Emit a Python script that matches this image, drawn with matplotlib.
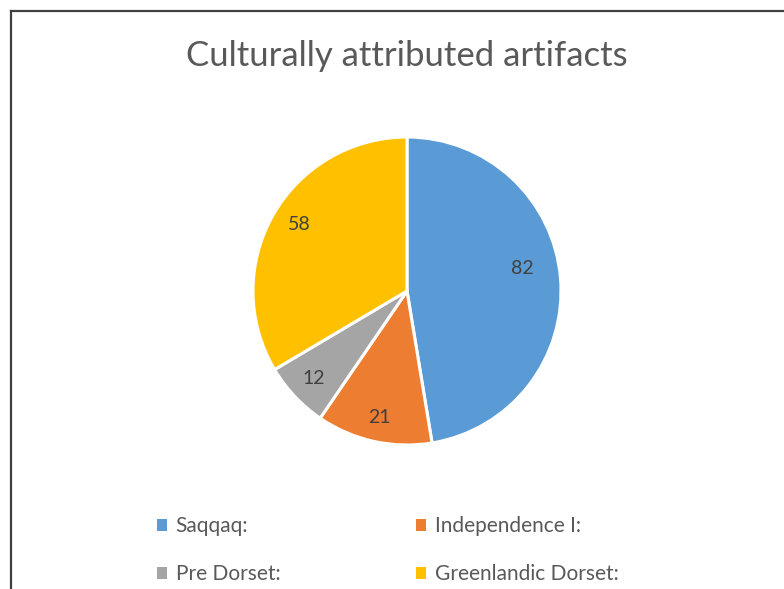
import matplotlib
matplotlib.use("Agg")
import numpy as np
import matplotlib.pyplot as plt
from matplotlib.lines import Line2D
from matplotlib.patches import Patch

categories = ["Saqqaq:", "Independence I:", "Pre Dorset:", "Greenlandic Dorset:"]
values = [82, 21, 12, 58]
colors = ["#5B9BD5", "#ED7D31", "#A5A5A5", "#FFC000"]
title = "Culturally attributed artifacts"

# label placement style (radius fraction, angular nudge in degrees)
label_dist = [0.76, 0.84, 0.83, 0.82]
label_nudge = [6.5, 0.0, 0.0, -2.0]

plt.rcParams['font.family'] = ['Lato', 'DejaVu Sans']

W, H = 784, 589
fig = plt.figure(figsize=(W / 100, H / 100), dpi=100)
fig.patch.set_facecolor("white")

# chart border (top and left visible)
fig.add_artist(Line2D([11 / W, 1.0], [1 - 11 / H, 1 - 11 / H], color="#404040", lw=1.6, transform=fig.transFigure))
fig.add_artist(Line2D([11 / W, 11 / W], [0, 1 - 11 / H], color="#404040", lw=1.6, transform=fig.transFigure))

cx, cy, r = 407, 291, 154
ax = fig.add_axes([(cx - r) / W, (H - cy - r) / H, 2 * r / W, 2 * r / H])
wedges, _ = ax.pie(values, colors=colors, startangle=90, counterclock=False,
                   wedgeprops=dict(edgecolor="white", linewidth=2.2))
for w, v, d, n in zip(wedges, values, label_dist, label_nudge):
    ang = np.deg2rad((w.theta1 + w.theta2) / 2 + n)
    ax.text(d * np.cos(ang), d * np.sin(ang), str(v), ha="center", va="center",
            fontsize=14, color="#404040")
ax.set_xlim(-1.0, 1.0)
ax.set_ylim(-1.0, 1.0)
ax.set_aspect("equal")
ax.axis("off")

fig.text(cx / W, 1 - 56 / H, title, ha="center", va="center", fontsize=25, color="#595959")

handles = [Patch(facecolor=c, edgecolor="none") for c in colors]
order = [0, 2, 1, 3]
leg = fig.legend([handles[i] for i in order], [categories[i] for i in order], ncol=2,
                 loc="upper left", bbox_to_anchor=(157 / W, 1 - 516 / H), frameon=False,
                 borderpad=0, borderaxespad=0,
                 fontsize=15, labelcolor="#595959", handlelength=0.5, handleheight=0.5,
                 handletextpad=0.4, labelspacing=1.35, columnspacing=6.5)

fig.savefig("out.png", dpi=100)
